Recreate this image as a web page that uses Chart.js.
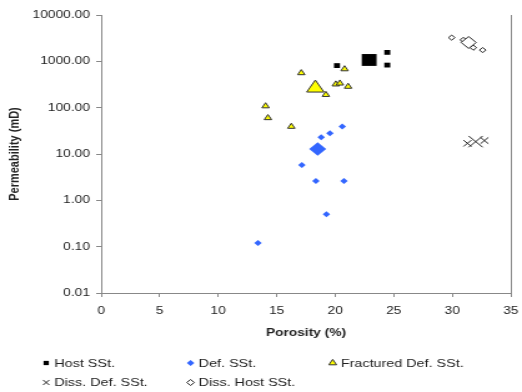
<!DOCTYPE html>
<html>
<head>
<meta charset="utf-8">
<script src="https://cdn.jsdelivr.net/npm/chart.js@4.4.0/dist/chart.umd.min.js"></script>
<style>
html, body { margin: 0; padding: 0; background: #fff; overflow: hidden; }
/* the original picture is stretched sideways, so the chart is drawn narrow and widened */
#wrap { width: 418px; height: 392px; transform: scaleX(1.2488); transform-origin: 0 0; }
#chart { display: block; }
</style>
</head>
<body>
<div id="wrap"><canvas id="chart" width="418" height="392"></canvas></div>
<script>
// porosity (%) / permeability (mD) per sample group; the last entry of each is the mean (big marker)
var hostPorosity = [20.15, 24.45, 24.45, 22.9];
var hostPerm = [810, 1560, 830, 1070];

var defPorosity = [20.6, 19.55, 18.8, 17.15, 18.35, 20.75, 19.25, 13.4, 18.5];
var defPerm = [39, 28, 23, 5.8, 2.6, 2.6, 0.5, 0.12, 12.8];

var fracPorosity = [17.1, 20.8, 19.2, 20.05, 20.4, 21.1, 14.05, 14.25, 16.25, 18.3];
var fracPerm = [560, 680, 190, 320, 335, 285, 108, 60, 39, 265];

var dissDefPorosity = [31.3, 32.75, 32.0];
var dissDefPerm = [17.0, 19.5, 18.5];

var dissHostPorosity = [29.95, 30.95, 31.8, 32.6, 31.4];
var dissHostPerm = [3250, 2900, 1970, 1750, 2550];

var seriesNames = ['Host SSt.', 'Def. SSt.', 'Fractured Def. SSt.', 'Diss. Def. SSt.', 'Diss. Host SSt.'];
var xTicks = [0, 5, 10, 15, 20, 25, 30, 35];
var yTicks = [0.01, 0.1, 1, 10, 100, 1000, 10000];

var FONT = 'Arial, "Liberation Sans", sans-serif';

function points(xs, ys) {
    return xs.map(function (x, i) { return { x: x, y: ys[i] }; });
}

// small marker for samples, big one for the mean (last point)
function sized(small, big) {
    return function (ctx) {
        return ctx.dataIndex === ctx.dataset.data.length - 1 ? big : small;
    };
}

var styles = [
    { pointStyle: 'rect', backgroundColor: '#000', borderColor: '#000', borderWidth: 0, r: 3.4, R: 8.4 },
    { pointStyle: 'rectRot', backgroundColor: '#3366ff', borderColor: '#3366ff', borderWidth: 0, r: 3, R: 6.8 },
    { pointStyle: 'triangle', backgroundColor: '#ffff00', borderColor: '#333', borderWidth: 1, r: 3.4, R: 8 },
    { pointStyle: 'crossRot', backgroundColor: '#222', borderColor: '#222', borderWidth: 1, r: 4.5, R: 8 },
    { pointStyle: 'rectRot', backgroundColor: '#fff', borderColor: '#222', borderWidth: 1, r: 2.6, R: 6 }
];

var allData = [
    points(hostPorosity, hostPerm),
    points(defPorosity, defPerm),
    points(fracPorosity, fracPerm),
    points(dissDefPorosity, dissDefPerm),
    points(dissHostPorosity, dissHostPerm)
];

var datasets = allData.map(function (d, i) {
    var s = styles[i];
    return {
        label: seriesNames[i],
        data: d,
        pointStyle: s.pointStyle,
        backgroundColor: s.backgroundColor,
        borderColor: s.borderColor,
        borderWidth: s.borderWidth,
        pointRadius: sized(s.r, s.R),
        pointHoverRadius: sized(s.r, s.R)
    };
});

// thin line on the right side of the plot area
var rightBorder = {
    id: 'rightBorder',
    afterDraw: function (chart) {
        var a = chart.chartArea, ctx = chart.ctx;
        ctx.save();
        ctx.strokeStyle = '#888';
        ctx.lineWidth = 1;
        ctx.beginPath();
        ctx.moveTo(a.right + 0.5, a.top);
        ctx.lineTo(a.right + 0.5, a.bottom);
        ctx.stroke();
        ctx.restore();
    }
};

// legend in two rows, three fixed columns
var gridLegend = {
    id: 'gridLegend',
    afterDraw: function (chart) {
        var ctx = chart.ctx;
        var cols = [37, 152.6, 266.4];
        var rows = [363, 382.5];
        ctx.save();
        ctx.font = '11.5px ' + FONT;
        ctx.textBaseline = 'middle';
        ctx.textAlign = 'left';
        seriesNames.forEach(function (name, i) {
            var s = styles[i];
            var x = cols[i % 3], y = rows[Math.floor(i / 3)];
            ctx.fillStyle = s.backgroundColor;
            ctx.strokeStyle = s.borderColor;
            ctx.lineWidth = s.borderWidth || 1;
            Chart.helpers.drawPoint(ctx, {
                pointStyle: s.pointStyle,
                radius: s.pointStyle === 'triangle' ? 3.6 : (s.pointStyle === 'crossRot' ? 3.6 : 3),
                rotation: 0,
                borderWidth: s.borderWidth
            }, x, y);
            ctx.fillStyle = '#222';
            ctx.fillText(name, x + 6.5, y + 0.5);
        });
        ctx.restore();
    }
};

new Chart(document.getElementById('chart'), {
    type: 'scatter',
    data: { datasets: datasets },
    options: {
        responsive: false,
        animation: false,
        devicePixelRatio: 1,
        layout: { padding: { top: 15, right: 5, bottom: 51, left: 0 } },
        plugins: {
            legend: { display: false },
            tooltip: { enabled: false }
        },
        scales: {
            x: {
                type: 'linear',
                min: 0,
                max: 35,
                afterBuildTicks: function (s) {
                    s.ticks = xTicks.map(function (v) { return { value: v }; });
                },
                afterFit: function (s) {
                    s.height = 48;
                    s.paddingLeft = 0;
                    s.paddingRight = 0;
                },
                ticks: { padding: 7, color: '#222', maxRotation: 0, font: { family: FONT, size: 11 } },
                grid: { drawOnChartArea: false, tickLength: 4, color: '#888' },
                border: { color: '#888' },
                title: {
                    display: true,
                    text: 'Porosity (%)',
                    color: '#222',
                    font: { family: FONT, size: 11, weight: 'bold' },
                    padding: { top: 4, bottom: 1 }
                }
            },
            y: {
                type: 'logarithmic',
                min: 0.01,
                max: 10000,
                afterBuildTicks: function (s) {
                    s.ticks = yTicks.map(function (v) { return { value: v }; });
                },
                afterFit: function (s) {
                    s.width = 81;
                },
                ticks: {
                    padding: 5,
                    color: '#222',
                    font: { family: FONT, size: 11 },
                    callback: function (v) { return Number(v).toFixed(2); }
                },
                grid: { drawOnChartArea: false, tickLength: 4, color: '#888' },
                border: { color: '#888' },
                title: {
                    display: true,
                    text: 'Permeability (mD)',
                    color: '#222',
                    font: { family: FONT, size: 11, weight: 'bold' },
                    padding: { top: 5, bottom: 0 }
                }
            }
        }
    },
    plugins: [rightBorder, gridLegend]
});
</script>
</body>
</html>
